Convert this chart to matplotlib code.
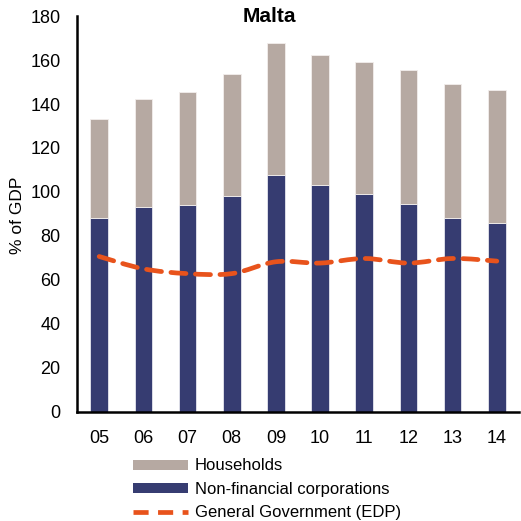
import matplotlib
matplotlib.use('Agg')
import matplotlib.pyplot as plt
import numpy as np
from matplotlib.path import Path
from matplotlib.patches import PathPatch
from matplotlib.lines import Line2D
from matplotlib.patches import Patch

plt.rcParams['font.family'] = ['Liberation Sans', 'DejaVu Sans']

years = ['05', '06', '07', '08', '09', '10', '11', '12', '13', '14']
nfc = [88.1, 93.0, 93.9, 98.3, 107.9, 103.0, 99.2, 94.5, 88.1, 85.9]
total = [133.3, 142.5, 145.7, 153.6, 167.9, 162.3, 159.2, 155.3, 148.9, 146.6]
households = [t - n for t, n in zip(total, nfc)]
gov = [70.6, 65.0, 62.8, 62.8, 68.2, 67.6, 69.7, 67.6, 69.7, 68.5]

C_HH = '#B6A9A2'
C_NFC = '#363C71'
C_GOV = '#E8531C'
DASH = (0, (3.2, 2.0))


def smooth_path(x, y, t=1.0 / 6):
    # catmull-rom style bezier, like excel's smoothed lines
    x = np.asarray(x, float)
    y = np.asarray(y, float)
    verts = [(x[0], y[0])]
    codes = [Path.MOVETO]
    n = len(x)
    for i in range(n - 1):
        p0 = (x[max(i - 1, 0)], y[max(i - 1, 0)])
        p1 = (x[i], y[i])
        p2 = (x[i + 1], y[i + 1])
        p3 = (x[min(i + 2, n - 1)], y[min(i + 2, n - 1)])
        c1 = (p1[0] + (p2[0] - p0[0]) * t, p1[1] + (p2[1] - p0[1]) * t)
        c2 = (p2[0] - (p3[0] - p1[0]) * t, p2[1] - (p3[1] - p1[1]) * t)
        verts += [c1, c2, p2]
        codes += [Path.CURVE4] * 3
    return Path(verts, codes)


fig = plt.figure(figsize=(5.21, 5.21), dpi=100)
ax = fig.add_axes([0.148, 0.21, 0.848, 0.759])

xs = np.arange(len(years))
ax.bar(xs, nfc, width=0.4, color=C_NFC, edgecolor='#e6e6ee', linewidth=0.6, zorder=2)
ax.bar(xs, households, width=0.4, bottom=nfc, color=C_HH, edgecolor='#f2eeec', linewidth=0.6, zorder=2)

ax.add_patch(PathPatch(smooth_path(xs, gov), facecolor='none', edgecolor=C_GOV,
                       linewidth=3.4, linestyle=DASH, capstyle='round', zorder=3))

ax.set_xlim(-0.5, len(years) - 0.5)
ax.set_ylim(0, 180)
ax.set_yticks(np.arange(0, 181, 20))
ax.set_xticks(xs)
ax.set_xticklabels(years)
ax.tick_params(length=0, labelsize=13)
ax.tick_params(axis='x', pad=13)
ax.tick_params(axis='y', pad=12)
for side in ['top', 'right']:
    ax.spines[side].set_visible(False)
for side in ['left', 'bottom']:
    ax.spines[side].set_linewidth(1.8)
fig.text(18 / 521, 1 - 215 / 521, '% of GDP', fontsize=12.5, rotation=90, ha='center', va='center')
fig.text(269 / 521, 1 - 17 / 521, 'Malta', fontsize=15, fontweight='bold', ha='center', va='center')

handles = [Patch(facecolor=C_HH), Patch(facecolor=C_NFC),
           Line2D([0], [0], color=C_GOV, linewidth=3.4, linestyle=DASH, solid_capstyle='round')]
labels = ['Households', 'Non-financial corporations', 'General Government (EDP)']
fig.legend(handles, labels, loc='upper left', bbox_to_anchor=(0.255, 0.12), frameon=False,
           fontsize=12, handlelength=3.3, handleheight=0.55, handletextpad=0.4,
           labelspacing=0.5, borderaxespad=0, borderpad=0)

fig.savefig('out.png', dpi=100)
